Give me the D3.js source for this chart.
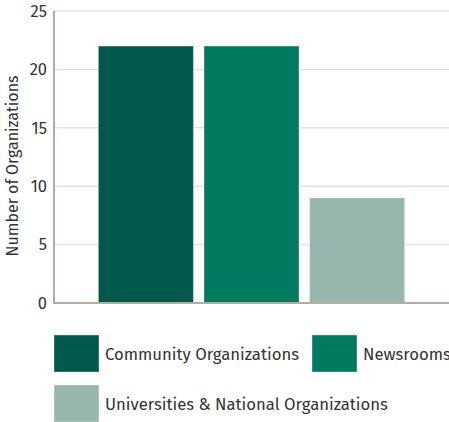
<!DOCTYPE html>
<html>
<head>
<meta charset="utf-8">
<script src="https://cdnjs.cloudflare.com/ajax/libs/d3/7.8.5/d3.min.js"></script>
<style>
  body { margin: 0; background: #fff; }
  text { font-family: "Fira Sans", "Noto Sans", sans-serif; fill: #333; }
</style>
</head>
<body>
<svg id="chart" width="449" height="422"></svg>
<script>
var categories = ["Community Organizations", "Newsrooms", "Universities & National Organizations"];
var counts = [22, 22, 9];
var colors = ["#00594a", "#007b5f", "#96b6ae"];
var yTicks = [0, 5, 10, 15, 20, 25];

var svg = d3.select("#chart");

var x = d3.scaleBand()
    .domain(categories)
    .range([54, 449])
    .paddingInner(0.1)
    .paddingOuter(0.42);

var y = d3.scaleLinear()
    .domain([0, 25])
    .range([303, 11]);

// grid
svg.append("g")
    .selectAll("line")
    .data(yTicks.filter(function (d) { return d > 0; }))
    .enter()
    .append("line")
    .attr("x1", 54)
    .attr("x2", 449)
    .attr("y1", function (d) { return y(d); })
    .attr("y2", function (d) { return y(d); })
    .attr("stroke", "#e8e2df")
    .attr("stroke-width", 1.5);

// bars
svg.append("g")
    .selectAll("rect")
    .data(categories)
    .enter()
    .append("rect")
    .attr("x", function (d) { return x(d); })
    .attr("width", x.bandwidth())
    .attr("y", function (d, i) { return y(counts[i]); })
    .attr("height", function (d, i) { return y(0) - y(counts[i]); })
    .attr("fill", function (d, i) { return colors[i]; })
    .attr("stroke", "rgba(255,255,255,0.35)")
    .attr("stroke-width", 1);

// y axis
var yAxis = svg.append("g")
    .attr("transform", "translate(54,0)")
    .call(d3.axisLeft(y).tickValues(yTicks).tickSize(0).tickPadding(7));
yAxis.select(".domain").remove();
yAxis.selectAll("text")
    .style("font-size", "16.5px")
    .attr("fill", "#333");

svg.append("line")
    .attr("x1", 54).attr("x2", 54)
    .attr("y1", 11).attr("y2", 303)
    .attr("stroke", "#b5aaa5").attr("stroke-width", 2);
svg.append("line")
    .attr("x1", 53).attr("x2", 449)
    .attr("y1", 303).attr("y2", 303)
    .attr("stroke", "#b5aaa5").attr("stroke-width", 2);

svg.append("text")
    .attr("transform", "translate(18,166) rotate(-90)")
    .attr("text-anchor", "middle")
    .style("font-size", "16px")
    .text("Number of Organizations");

// legend
var legendPos = [[54, 335], [312, 335], [54, 385]];
var legend = svg.append("g")
    .selectAll("g")
    .data(categories)
    .enter()
    .append("g")
    .attr("transform", function (d, i) { return "translate(" + legendPos[i][0] + "," + legendPos[i][1] + ")"; });

legend.append("rect")
    .attr("width", 45)
    .attr("height", 37)
    .attr("fill", function (d, i) { return colors[i]; })
    .attr("stroke", "rgba(255,255,255,0.35)");

legend.append("text")
    .attr("x", 51)
    .attr("y", 25)
    .style("font-size", "16.7px")
    .text(function (d) { return d; });
</script>
</body>
</html>
